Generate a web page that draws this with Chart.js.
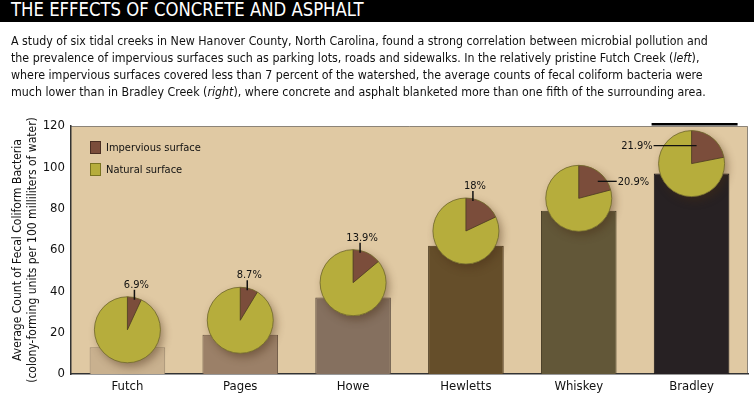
<!DOCTYPE html>
<html>
<head>
<meta charset="utf-8">
<script src="https://cdn.jsdelivr.net/npm/chart.js@4.4.1/dist/chart.umd.min.js"></script>
<style>
  html, body { margin: 0; padding: 0; background: #ffffff; }
  body { width: 754px; height: 397px; position: relative; overflow: hidden; font-family: "DejaVu Sans Condensed", "Liberation Sans Narrow", sans-serif; }
  #titlebar { position: absolute; left: 0; top: 0; width: 754px; height: 22px; background: #000; }
  #title { position: absolute; left: 11px; top: -1px; color: #fff; font-size: 19.5px; line-height: 22px; white-space: nowrap; transform: scaleX(0.94); transform-origin: 0 0; }
  #para { position: absolute; left: 11px; top: 32px; color: #111; font-size: 12.5px; line-height: 17px; transform: scaleX(0.985); transform-origin: 0 0; }
  #para div { white-space: nowrap; }
  #wrap { position: absolute; left: 0; top: 0; width: 754px; height: 397px; }
</style>
</head>
<body>
<div id="wrap"><canvas id="c" width="754" height="397"></canvas></div>
<div id="titlebar"><div id="title">THE EFFECTS OF CONCRETE AND ASPHALT</div></div>
<div id="para">
  <div>A study of six tidal creeks in New Hanover County, North Carolina, found a strong correlation between microbial pollution and</div>
  <div>the prevalence of impervious surfaces such as parking lots, roads and sidewalks. In the relatively pristine Futch Creek (<i>left</i>),</div>
  <div>where impervious surfaces covered less than 7 percent of the watershed, the average counts of fecal coliform bacteria were</div>
  <div>much lower than in Bradley Creek (<i>right</i>), where concrete and asphalt blanketed more than one fifth of the surrounding area.</div>
</div>
<script>
// ---- data ----
const creeks = ["Futch", "Pages", "Howe", "Hewletts", "Whiskey", "Bradley"];
const coliformCounts = [13, 19, 37, 62, 79, 97];
const imperviousPct = [6.9, 8.7, 13.9, 18, 20.9, 21.9];
const pieCenterValues = [21.4, 26, 44.2, 69.2, 85, 101.8];
const yTicks = [0, 20, 40, 60, 80, 100, 120];
const legendLabels = ["Impervious surface", "Natural surface"];

// ---- styles ----
const barColors = ["#c9b18f", "#9b8068", "#85705f", "#654e2a", "#625738", "#272123"];
const barBorders = ["#9c8a70", "#6f5a48", "#5e4e42", "#45341a", "#443b24", "#161213"];
const imperviousColor = "#7b4d3b";
const naturalColor = "#b6ad3c";
const labelPlacement = ["top", "top", "top", "top", "right", "left"];
const FONT = '"DejaVu Sans Condensed", "Liberation Sans Narrow", sans-serif';

const bgPlugin = {
  id: "bg",
  beforeDraw(chart) {
    const { ctx, chartArea: a } = chart;
    ctx.save();
    ctx.fillStyle = "#e0c9a3";
    ctx.fillRect(a.left, a.top, a.right - a.left, a.bottom - a.top);
    ctx.strokeStyle = "#8c8478";
    ctx.lineWidth = 1;
    ctx.beginPath();
    ctx.moveTo(a.left, a.top + 0.5);
    ctx.lineTo(a.right - 0.5, a.top + 0.5);
    ctx.lineTo(a.right - 0.5, a.bottom);
    ctx.stroke();
    ctx.restore();
  }
};

const piePlugin = {
  id: "pies",
  afterDatasetsDraw(chart) {
    const { ctx } = chart;
    const xs = chart.scales.x, ys = chart.scales.y;
    const r = 33;
    const last = creeks.length - 1;
    const bx = xs.getPixelForValue(last);
    ctx.save();
    ctx.fillStyle = "#000";
    ctx.fillRect(bx - 40, ys.getPixelForValue(120) - 3, 86, 2.5);
    ctx.restore();

    for (let i = 0; i < creeks.length; i++) {
      const cx = xs.getPixelForValue(i);
      const cy = ys.getPixelForValue(pieCenterValues[i]);
      const start = -Math.PI / 2;
      const end = start + imperviousPct[i] / 100 * Math.PI * 2;
      ctx.save();
      ctx.shadowColor = "rgba(70,45,20,0.45)";
      ctx.shadowBlur = 9;
      ctx.shadowOffsetX = 3;
      ctx.shadowOffsetY = 4;
      ctx.fillStyle = naturalColor;
      ctx.beginPath();
      ctx.arc(cx, cy, r, 0, Math.PI * 2);
      ctx.fill();
      ctx.restore();

      ctx.save();
      ctx.fillStyle = naturalColor;
      ctx.beginPath();
      ctx.arc(cx, cy, r, 0, Math.PI * 2);
      ctx.fill();
      ctx.fillStyle = imperviousColor;
      ctx.beginPath();
      ctx.moveTo(cx, cy);
      ctx.arc(cx, cy, r, start, end);
      ctx.closePath();
      ctx.fill();
      ctx.strokeStyle = "#4a3a22";
      ctx.lineWidth = 0.8;
      ctx.beginPath();
      ctx.moveTo(cx, cy);
      ctx.lineTo(cx, cy - r);
      ctx.moveTo(cx, cy);
      ctx.lineTo(cx + r * Math.cos(end), cy + r * Math.sin(end));
      ctx.stroke();
      ctx.strokeStyle = "#6e6630";
      ctx.beginPath();
      ctx.arc(cx, cy, r, 0, Math.PI * 2);
      ctx.stroke();

      const txt = imperviousPct[i] + "%";
      ctx.fillStyle = "#111";
      ctx.strokeStyle = "#111";
      ctx.font = "11px " + FONT;
      ctx.lineWidth = 1.5;
      const p = labelPlacement[i];
      if (p === "top") {
        ctx.beginPath();
        ctx.moveTo(cx + 7, cy - r - 7);
        ctx.lineTo(cx + 7, cy - r + 3);
        ctx.stroke();
        ctx.textAlign = "center";
        ctx.textBaseline = "alphabetic";
        ctx.fillText(txt, cx + 9, cy - r - 9);
      } else if (p === "right") {
        ctx.lineWidth = 1.3;
        ctx.beginPath();
        ctx.moveTo(cx + 19, cy - 17);
        ctx.lineTo(cx + 38, cy - 17);
        ctx.stroke();
        ctx.textAlign = "left";
        ctx.textBaseline = "middle";
        ctx.fillText(txt, cx + 39, cy - 16);
      } else {
        ctx.lineWidth = 1.3;
        ctx.beginPath();
        ctx.moveTo(cx - 38, cy - 18);
        ctx.lineTo(cx + 5, cy - 18);
        ctx.stroke();
        ctx.textAlign = "right";
        ctx.textBaseline = "middle";
        ctx.fillText(txt, cx - 39, cy - 17);
      }
      ctx.restore();
    }

    const a = chart.chartArea;
    const colors = [imperviousColor, naturalColor];
    const borders = ["#4a2e22", "#7a7420"];
    ctx.save();
    ctx.font = "11px " + FONT;
    ctx.textAlign = "left";
    ctx.textBaseline = "middle";
    for (let k = 0; k < legendLabels.length; k++) {
      const ly = a.top + 15 + k * 22;
      ctx.fillStyle = colors[k];
      ctx.fillRect(a.left + 19, ly, 11, 13);
      ctx.strokeStyle = borders[k];
      ctx.lineWidth = 1;
      ctx.strokeRect(a.left + 19.5, ly + 0.5, 10, 12);
      ctx.fillStyle = "#111";
      ctx.fillText(legendLabels[k], a.left + 35, ly + 7);
    }
    ctx.restore();
  }
};

new Chart(document.getElementById("c"), {
  type: "bar",
  data: {
    labels: creeks,
    datasets: [{
      data: coliformCounts,
      backgroundColor: barColors,
      borderColor: barBorders,
      borderWidth: 1,
      barPercentage: 0.67,
      categoryPercentage: 1.0
    }]
  },
  options: {
    responsive: false,
    animation: false,
    devicePixelRatio: 1,
    layout: { padding: { top: 126, right: 6, left: 11, bottom: 0 } },
    plugins: { legend: { display: false }, tooltip: { enabled: false } },
    scales: {
      x: {
        grid: { display: false, drawTicks: false },
        border: { color: "#333", width: 1.5 },
        ticks: { color: "#111", font: { family: FONT, size: 13 }, padding: 5 },
        afterFit(s) { s.height = 23; }
      },
      y: {
        min: 0, max: 120,
        afterBuildTicks(s) { s.ticks = yTicks.map(v => ({ value: v })); },
        grid: { display: false, drawOnChartArea: false, drawTicks: true, tickLength: 4, tickColor: "#333" },
        border: { color: "#333", width: 1.5 },
        ticks: { color: "#111", font: { family: FONT, size: 13 }, padding: 2 },
        title: {
          display: true,
          text: ["Average Count of Fecal Coliform Bacteria", "(colony-forming units per 100 milliliters of water)"],
          color: "#111",
          font: { family: FONT, size: 12, lineHeight: 1.2 },
          padding: { top: 0, bottom: 4 }
        },
        afterFit(s) { s.width = 60; }
      }
    }
  },
  plugins: [bgPlugin, piePlugin]
});
</script>
</body>
</html>
